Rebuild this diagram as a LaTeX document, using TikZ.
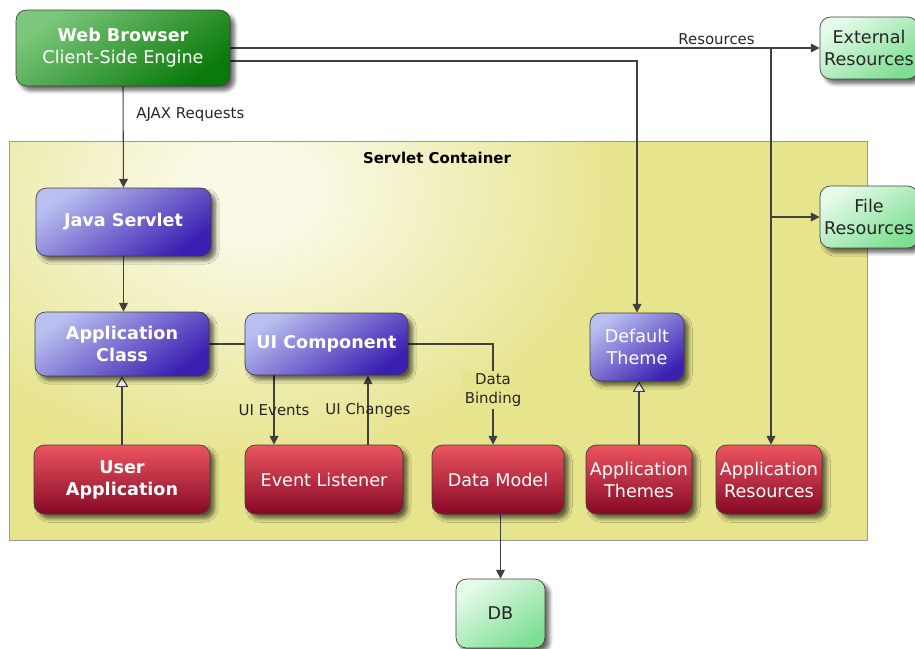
\documentclass[tikz,border=0pt]{standalone}
\usepackage{fontspec}
\setmainfont{DejaVu Sans}
\usepackage{tikz}
\usetikzlibrary{arrows.meta,shadows.blur}
\pgfdeclarelayer{bg}
\pgfsetlayers{bg,main}

\definecolor{browserlight}{HTML}{7CC77C}
\definecolor{browserdark}{HTML}{0B7A0B}
\definecolor{reslight}{HTML}{E6FAEA}
\definecolor{resdark}{HTML}{7EDF93}
\definecolor{bluelight}{HTML}{B9BFF0}
\definecolor{bluedark}{HTML}{3B1FB2}
\definecolor{redlight}{HTML}{EC5560}
\definecolor{reddark}{HTML}{860826}
\definecolor{contlight}{HTML}{FAF9E6}
\definecolor{contdark}{HTML}{E6E48C}
\pgfdeclareradialshading{contglow}{\pgfpoint{0bp}{0bp}}{color(0bp)=(contlight); color(4bp)=(contlight); color(25bp)=(contdark); color(50bp)=(contdark)}

\tikzset{
  box/.style={draw=black!75, rounded corners=6pt, align=center,
    font=\fontsize{10}{12.5}\selectfont, inner sep=2pt,
    blur shadow={shadow xshift=2.5pt, shadow yshift=-2.5pt, shadow blur steps=6, shadow opacity=60}},
  browser/.style={box, text=white, top color=browserlight, bottom color=browserdark, shading angle=35},
  resource/.style={box, text=black!85, top color=reslight, bottom color=resdark, shading angle=35},
  engine/.style={box, text=white, top color=bluelight, bottom color=bluedark, shading angle=35},
  userpart/.style={box, text=white, top color=redlight, bottom color=reddark},
  container/.style={fill=contdark, inner sep=0pt},
  lbl/.style={font=\fontsize{8.5}{10.5}\selectfont, text=black!85, inner sep=1.5pt},
  arr/.style={draw=black!75, line width=0.6pt, -{Triangle[length=5pt,width=5pt]}},
  inh/.style={draw=black!75, line width=0.6pt, -{Triangle[length=6pt,width=7pt,fill=white]}},
}

\begin{document}
\begin{tikzpicture}
        \useasboundingbox (0cm, 0cm) rectangle (18.3cm, -12.96cm);
        \node (wb) [browser, minimum width=4.28cm, minimum height=1.52cm] at (2.46cm, -0.96cm) {\textbf{Web Browser}\\Client-Side Engine};
        \node (ext) [resource, minimum width=1.96cm, minimum height=1.24cm] at (17.38cm, -0.96cm) {External\\Resources};
        \node (fil) [resource, minimum width=1.96cm, minimum height=1.24cm] at (17.38cm, -4.34cm) {File\\Resources};
        \node (db) [resource, minimum width=1.78cm, minimum height=1.38cm] at (10.01cm, -12.27cm) {DB};
        \node (servlet) [engine, minimum width=3.5cm, minimum height=1.36cm] at (2.47cm, -4.44cm) {\textbf{Java Servlet}};
        \node (appcls) [engine, minimum width=3.48cm, minimum height=1.28cm] at (2.44cm, -6.88cm) {\textbf{Application}\\\textbf{Class}};
        \node (ui) [engine, minimum width=3.26cm, minimum height=1.24cm] at (6.53cm, -6.88cm) {\textbf{UI Component}};
        \node (theme) [engine, minimum width=1.88cm, minimum height=1.36cm] at (12.74cm, -6.94cm) {Default\\Theme};
        \node (userapp) [userpart, minimum width=3.52cm, minimum height=1.38cm] at (2.44cm, -9.59cm) {\textbf{User}\\\textbf{Application}};
        \node (listener) [userpart, minimum width=3.16cm, minimum height=1.38cm] at (6.48cm, -9.59cm) {Event Listener};
        \node (model) [userpart, minimum width=2.64cm, minimum height=1.38cm] at (9.96cm, -9.59cm) {Data Model};
        \node (appthemes) [userpart, minimum width=2.12cm, minimum height=1.38cm] at (12.78cm, -9.59cm) {Application\\Themes};
        \node (appres) [userpart, minimum width=2.12cm, minimum height=1.38cm] at (15.38cm, -9.59cm) {Application\\Resources};
        \coordinate (split) at (15.42cm, -0.96cm);
        \begin{pgfonlayer}{bg}
                \node (cont) [container, minimum width=17.14cm, minimum height=7.96cm] at (8.77cm, -6.82cm) {};
                \begin{scope}
                        \clip (cont.south west) rectangle (cont.north east);
                        \shade [shading=contglow] (5cm, -3.8cm) ellipse (7.5cm and 5.5cm);
                \end{scope}
                \draw [draw=black!40] (cont.south west) rectangle (cont.north east);
                \node (conttitle) [anchor=north, font=\fontsize{8.5}{10.5}\selectfont\bfseries] at ([xshift=-0.03cm, yshift=-0.08cm]cont.north) {Servlet Container};
                \draw [arr] (wb.east) -- node [lbl, above, pos=0.825] {Resources} (ext.west);
                \draw [arr] ([yshift=-0.26cm]wb.east) -| (theme.north);
                \draw [arr] (split) -- (split |- appres.north);
                \draw [arr] (split |- fil.west) -- (fil.west);
                \draw [arr] (wb.south) -- node [lbl, anchor=west, pos=0.28, xshift=0.2cm] {AJAX Requests} (servlet.north);
                \draw [arr] (servlet.south) -- (servlet.south |- appcls.north);
                \draw [inh] (userapp.north) -- (appcls.south);
                \draw [draw=black!75, line width=0.6pt] (appcls.east) -- (ui.west);
                \draw [arr] (ui.east) -| node [lbl, fill=contdark, align=center, pos=0.73] {Data\\Binding} ([xshift=-0.1cm]model.north);
                \draw [arr] ([xshift=-1cm]listener.north |- ui.south) -- node [lbl, pos=0.5] {UI Events} ([xshift=-1cm]listener.north);
                \draw [arr] ([xshift=0.88cm]listener.north) -- node [lbl, pos=0.5] {UI Changes} ([xshift=0.88cm]listener.north |- ui.south);
                \draw [inh] (appthemes.north) -- (appthemes.north |- theme.south);
                \draw [arr] (db.north |- model.south) -- (db.north);
        \end{pgfonlayer}
\end{tikzpicture}
\end{document}
